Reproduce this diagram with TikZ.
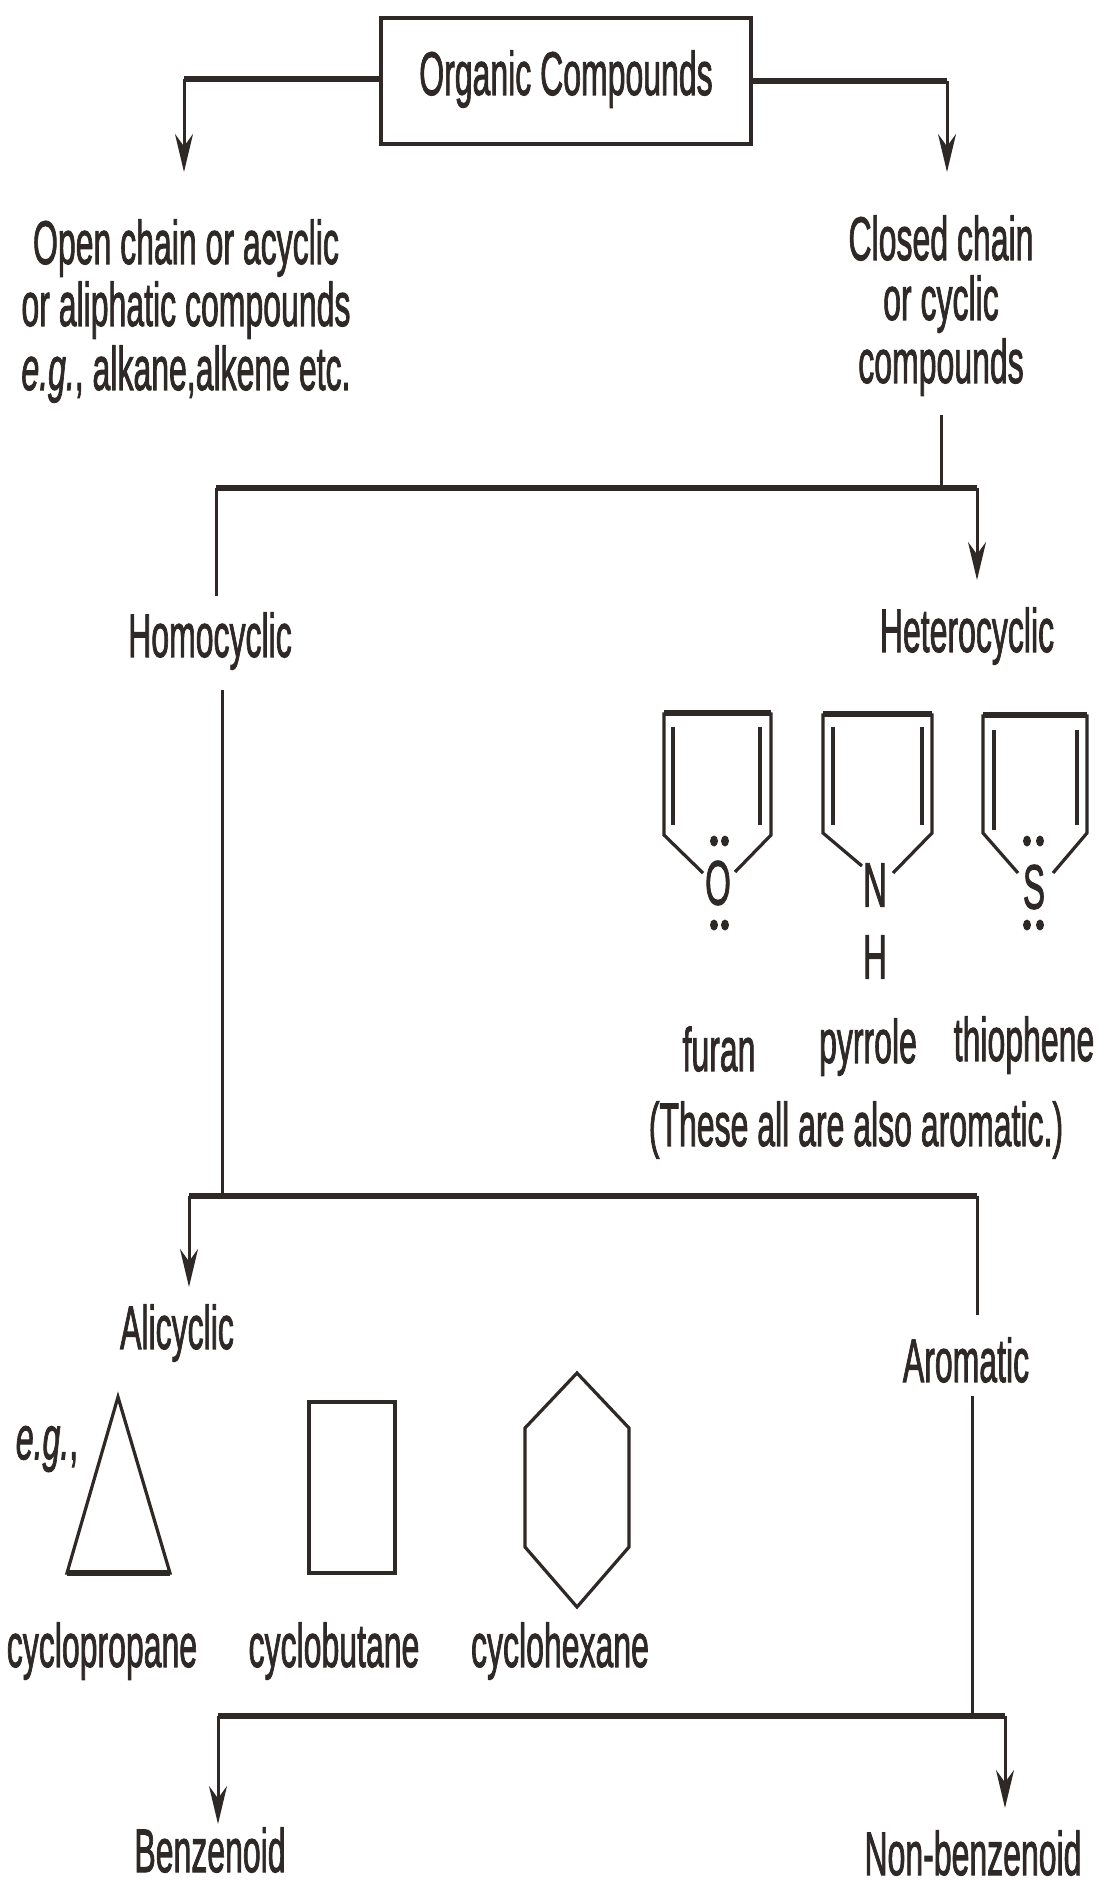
\documentclass[tikz,border=0pt]{standalone}
\usepackage{fontspec}
\setmainfont{Liberation Sans}[FakeBold=2]
\usetikzlibrary{arrows.meta}
\definecolor{ink}{HTML}{2E2826}
\tikzset{
  x=1pt,y=-1pt,
  txt/.style={inner sep=0pt,text=ink,font=\fontsize{32}{32}\selectfont,xscale=1,yscale=1.92,transform shape,align=center},
  atom/.style={inner sep=0pt,text=ink,font=\fontsize{33}{33}\selectfont,yscale=1.9,transform shape},
  thin line/.style={draw=ink,line width=3pt},
  thick line/.style={draw=ink,line width=6pt},
  ring/.style={draw=ink,line width=3.2pt,line join=miter},
  arrowed/.style={-{Stealth[length=38pt,width=18pt]}},
  lp/.style={fill=ink,draw=none},
}
\begin{document}
\begin{tikzpicture}
\useasboundingbox (0,0) rectangle (1098,1880);
\fill[white] (0,0) rectangle (1098,1880);
% Title box
\node[draw=ink,line width=4.5pt,minimum width=370pt,minimum height=126pt,inner sep=0pt] (box) at (566,81) {};
\node[txt] (title) at (566,79) {Organic Compounds};
% Level 1 labels
\node[txt] (open1) at (186,248) {Open chain or acyclic};
\node[txt] (open2) at (186,310) {or aliphatic compounds};
\node[txt] (open3) at (186,374) {\textit{e.g.}, alkane,alkene etc.};
\node[txt] (closed1) at (941,238) {Closed chain};
\node[txt] (closed2) at (941,304) {or cyclic};
\node[txt] (closed3) at (941,367) {compounds};
\node[txt] (homo) at (210,641) {Homocyclic};
\node[txt] (hetero) at (967,636) {Heterocyclic};
% Connector coordinates
\coordinate (lc) at (184,79);
\coordinate (lt) at (184,172);
\coordinate (rc) at (947,81);
\coordinate (rt) at (947,172);
\coordinate (cs) at (941,415);
\coordinate (cj) at (941,488);
\coordinate (hl) at (216,488);
\coordinate (hr) at (977,488);
\coordinate (hlb) at (216,596);
\coordinate (hrt) at (977,580);
\coordinate (hs) at (222,690);
\coordinate (hj) at (222,1196);
\coordinate (al) at (189,1196);
\coordinate (ar) at (977,1196);
\coordinate (alt) at (189,1287);
\coordinate (arb) at (977,1315);
\coordinate (as) at (972,1396);
\coordinate (aj) at (972,1716);
\coordinate (bl) at (218,1716);
\coordinate (br) at (1005,1716);
\coordinate (blt) at (218,1824);
\coordinate (brt) at (1005,1808);
% Connectors
\draw[thick line] (box.west |- lc) -- (lc);
\draw[thin line,arrowed] (lc) -- (lt);
\draw[thick line] (box.east |- rc) -- (rc);
\draw[thin line,arrowed] (rc) -- (rt);
\draw[thin line] (cs) -- (cj);
\draw[thick line] (hl) -- (hr);
\draw[thin line] (hl) -- (hlb);
\draw[thin line,arrowed] (hr) -- (hrt);
\draw[thin line] (hs) -- (hj);
\draw[thick line] (al) -- (ar);
\draw[thin line,arrowed] (al) -- (alt);
\draw[thin line] (ar) -- (arb);
\draw[thin line] (as) -- (aj);
\draw[thick line] (bl) -- (br);
\draw[thin line,arrowed] (bl) -- (blt);
\draw[thin line,arrowed] (br) -- (brt);
% Heterocycles
\node[atom] (O) at (718,883) {O};
\node[atom] (N) at (875,885) {N};
\node[atom] (H) at (875,957) {H};
\node[atom] (S) at (1034,887) {S};
\draw[ring] (703,873) -- (664,835) -- (664,714) -- (771,714) -- (771,835) -- (735,872);
\draw[thick line,line width=5.5pt] (664,713) -- (771,713);
\draw[ring] (673,727) -- (673,825);
\draw[ring] (760,727) -- (760,825);
\draw[ring] (862,866) -- (823,833) -- (823,715) -- (932,715) -- (932,833) -- (893,873);
\draw[thick line,line width=5.5pt] (823,714) -- (932,714);
\draw[ring] (833,727) -- (833,825);
\draw[ring] (922,727) -- (922,825);
\draw[ring] (1018,873) -- (983,833) -- (983,716) -- (1087,716) -- (1087,833) -- (1053,873);
\draw[thick line,line width=5.5pt] (983,715) -- (1087,715);
\draw[ring] (994,730) -- (994,830);
\draw[ring] (1077,730) -- (1077,825);
\foreach \x/\y in {714/841,725/841,714/925,725/925,1027/841,1040/841,1027/925,1040/925}
  \fill[lp] (\x,\y) ellipse (4pt and 5.5pt);
\node[txt] (furan) at (719,1049) {furan};
\node[txt] (pyrrole) at (868,1047) {pyrrole};
\node[txt] (thio) at (1024,1045) {thiophene};
\node[txt] (note) at (856,1130) {(These all are also aromatic.)};
% Alicyclic
\node[txt] (ali) at (177,1333) {Alicyclic};
\node[txt] (aro) at (966,1360) {Aromatic};
\node[txt] (eg) at (47,1449) {\textit{e.g.},};
\draw[ring] (118,1397) -- (170,1573) -- (67,1573) -- cycle;
\draw[thick line] (67,1573) -- (170,1573);
\draw[ring] (309,1402) rectangle (395,1573);
\draw[thick line,line width=4.5pt] (309,1402) -- (395,1402) (309,1573) -- (395,1573);
\draw[ring] (577,1373) -- (629,1428) -- (629,1547) -- (577,1607) -- (525,1547) -- (525,1428) -- cycle;
\node[txt] (cp) at (102,1651) {cyclopropane};
\node[txt] (cb) at (334,1651) {cyclobutane};
\node[txt] (ch) at (560,1651) {cyclohexane};
\node[txt,anchor=base] (benz) at (210,1872) {Benzenoid};
\node[txt,anchor=base] (nonb) at (973,1875) {Non-benzenoid};
\end{tikzpicture}
\end{document}
